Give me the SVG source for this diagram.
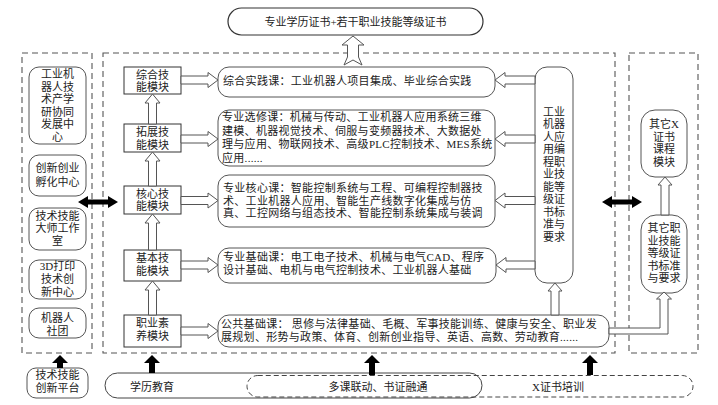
<svg xmlns="http://www.w3.org/2000/svg" width="718" height="405" viewBox="0 0 718 405">
<style>
text{font-family:"Liberation Serif","Noto Sans CJK SC",serif;font-size:11px;fill:#222}
.c{text-anchor:middle}
.l{letter-spacing:0.3px}
.dash{fill:none;stroke:#555;stroke-width:1.1;stroke-dasharray:6,4}
.mod{fill:#fff;stroke:#333;stroke-width:1}
.rnd{fill:#fff;stroke:#555;stroke-width:1}
.ha{fill:#fff;stroke:#555;stroke-width:1;stroke-linejoin:miter}
.ba{fill:#000;stroke:none}
</style>
<rect width="718" height="405" fill="#fff"/>

<g id="frames">
<rect class="dash" x="22" y="53" width="70" height="300"/>
<rect class="dash" x="103" y="53" width="512" height="300"/>
<rect class="dash" x="629" y="53" width="69" height="300"/>
</g>

<g id="top-cert">
<rect x="228" y="8" width="255" height="27" rx="13.5" fill="#fff" stroke="#333" stroke-width="1.2"/>
<text class="c" x="355.5" y="25.5">专业学历证书+若干职业技能等级证书</text>
</g>

<g id="bottom-pills">
<rect x="105" y="373" width="377" height="25" rx="12.5" fill="none" stroke="#444" stroke-width="1"/>
<rect x="247" y="375.5" width="446" height="21.5" rx="10.75" fill="none" stroke="#444" stroke-width="1" stroke-dasharray="5,3"/>
<text class="c" x="152" y="390.5">学历教育</text>
<text class="c" x="378" y="390.5">多课联动、书证融通</text>
<text class="c" x="558" y="390.5">X证书培训</text>
</g>

<g id="left-nodes">
<g id="n-center">
<rect class="rnd" x="29" y="67" width="57" height="77" rx="10"/>
<text class="c" x="57.5" y="78">工业机</text>
<text class="c" x="57.5" y="90.6">器人技</text>
<text class="c" x="57.5" y="103.2">术产学</text>
<text class="c" x="57.5" y="115.8">研协同</text>
<text class="c" x="57.5" y="128.4">发展中</text>
<text class="c" x="57.5" y="141">心</text>
</g>
<g id="n-incubator">
<rect class="rnd" x="29" y="155" width="57" height="41" rx="10"/>
<text class="c" x="57.5" y="172">创新创业</text>
<text class="c" x="57.5" y="186">孵化中心</text>
</g>
<g id="n-master">
<rect class="rnd" x="29" y="208" width="57" height="42" rx="10"/>
<text class="c" x="57.5" y="219.5">技术技能</text>
<text class="c" x="57.5" y="232">大师工作</text>
<text class="c" x="57.5" y="244.5">室</text>
</g>
<g id="n-3d">
<rect class="rnd" x="29" y="260" width="57" height="39" rx="10"/>
<text class="c" x="57.5" y="270">3D打印</text>
<text class="c" x="57.5" y="283">技术创</text>
<text class="c" x="57.5" y="295.5">新中心</text>
</g>
<g id="n-club">
<rect class="rnd" x="29" y="308" width="57" height="30" rx="10"/>
<text class="c" x="57.5" y="322">机器人</text>
<text class="c" x="57.5" y="335">社团</text>
</g>
<g id="n-platform">
<rect class="rnd" x="27" y="368" width="61" height="30" rx="9"/>
<text class="c" x="57.5" y="378.5">技术技能</text>
<text class="c" x="57.5" y="392">创新平台</text>
</g>
</g>

<g id="modules">
<g id="m-comp"><rect class="mod" x="124" y="67" width="57" height="27"/>
<text class="c" x="152.5" y="78.5">综合技</text><text class="c" x="152.5" y="91">能模块</text></g>
<g id="m-ext"><rect class="mod" x="124" y="124" width="57" height="28"/>
<text class="c" x="152.5" y="136">拓展技</text><text class="c" x="152.5" y="148.5">能模块</text></g>
<g id="m-core"><rect class="mod" x="124" y="186" width="57" height="28"/>
<text class="c" x="152.5" y="197.5">核心技</text><text class="c" x="152.5" y="210">能模块</text></g>
<g id="m-base"><rect class="mod" x="124" y="250" width="57" height="31"/>
<text class="c" x="152.5" y="262">基本技</text><text class="c" x="152.5" y="274.5">能模块</text></g>
<g id="m-prof"><rect class="mod" x="124" y="315" width="57" height="32"/>
<text class="c" x="152.5" y="327">职业素</text><text class="c" x="152.5" y="339.5">养模块</text></g>
</g>

<g id="courses">
<g id="c-practice"><rect class="rnd" x="218" y="67" width="277" height="30" rx="11"/>
<text class="l" x="223" y="85">综合实践课：工业机器人项目集成、毕业综合实践</text></g>
<g id="c-elective"><rect class="rnd" x="218" y="110" width="277" height="56" rx="11"/>
<text class="l" x="222" y="121">专业选修课：机械与传动、工业机器人应用系统三维</text>
<text class="l" x="222" y="134.5">建模、机器视觉技术、伺服与变频器技术、大数据处</text>
<text class="l" x="222" y="148">理与应用、物联网技术、高级PLC控制技术、MES系统</text>
<text class="l" x="222" y="161.5">应用......</text></g>
<g id="c-core"><rect class="rnd" x="218" y="175" width="277" height="52" rx="11"/>
<text class="l" x="223" y="192">专业核心课：智能控制系统与工程、可编程控制器技</text>
<text class="l" x="223" y="204.5">术、工业机器人应用、智能生产线数字化集成与仿</text>
<text class="l" x="223" y="217">真、工控网络与组态技术、智能控制系统集成与装调</text></g>
<g id="c-basic"><rect class="rnd" x="218" y="248" width="278" height="35" rx="11"/>
<text class="l" x="223" y="261">专业基础课：电工电子技术、机械与电气CAD、程序</text>
<text class="l" x="223" y="273.5">设计基础、电机与电气控制技术、工业机器人基础</text></g>
<g id="c-public"><rect class="rnd" x="218" y="315" width="391" height="32" rx="11"/>
<text class="l" x="221" y="328">公共基础课： 思修与法律基础、毛概、军事技能训练、健康与安全、职业发</text>
<text class="l" x="221" y="341">展规划、形势与政策、体育、创新创业指导、英语、高数、劳动教育......</text></g>
</g>

<g id="n-standard">
<rect class="rnd" x="535" y="67" width="38" height="216" rx="12"/>
<text class="c" x="554" y="115.5">工业</text>
<text class="c" x="554" y="128">机器</text>
<text class="c" x="554" y="140.5">人应</text>
<text class="c" x="554" y="153">用编</text>
<text class="c" x="554" y="165.5">程职</text>
<text class="c" x="554" y="178">业技</text>
<text class="c" x="554" y="190.5">能等</text>
<text class="c" x="554" y="203">级证</text>
<text class="c" x="554" y="215.5">书标</text>
<text class="c" x="554" y="228">准与</text>
<text class="c" x="554" y="240.5">要求</text>
</g>

<g id="right-nodes">
<g id="n-otherx"><rect class="rnd" x="641" y="110" width="46" height="67" rx="14"/>
<text class="c" x="664" y="128">其它X</text>
<text class="c" x="664" y="140.7">证书</text>
<text class="c" x="664" y="153.4">课程</text>
<text class="c" x="664" y="166">模块</text></g>
<g id="n-otherstd"><rect class="rnd" x="641" y="215" width="46" height="78" rx="15"/>
<text class="c" x="664" y="232">其它职</text>
<text class="c" x="664" y="244.5">业技能</text>
<text class="c" x="664" y="257">等级证</text>
<text class="c" x="664" y="269.5">书标准</text>
<text class="c" x="664" y="282">与要求</text></g>
</g>

<g id="connectors">
<polygon class="ha" points="353,36 364,45 358.5,45 358.5,57 362,65 353,60 344,65 347.5,57 347.5,45 342,45"/>
<polygon class="ha" points="152.5,94 160,103 156.5,103 156.5,124 148.5,124 148.5,103 145,103"/>
<polygon class="ha" points="152.5,152 160,161 156.5,161 156.5,186 148.5,186 148.5,161 145,161"/>
<polygon class="ha" points="152.5,214 160,223 156.5,223 156.5,250 148.5,250 148.5,223 145,223"/>
<polygon class="ha" points="152.5,281 160,290 156.5,290 156.5,315 148.5,315 148.5,290 145,290"/>
<polygon class="ha" points="181,76 208,76 208,72.5 218,80 208,87.5 208,84 181,84"/>
<polygon class="ha" points="181,135 208,135 208,131.5 218,139 208,146.5 208,143 181,143"/>
<polygon class="ha" points="181,196.5 208,196.5 208,193 218,200.5 208,208 208,204.5 181,204.5"/>
<polygon class="ha" points="181,261 208,261 208,257.5 218,265 208,272.5 208,269 181,269"/>
<polygon class="ha" points="181,327 208,327 208,323.5 218,331 208,338.5 208,335 181,335"/>
<polygon class="ha" points="535,76 505,76 505,72.5 495,80 505,87.5 505,84 535,84"/>
<polygon class="ha" points="535,135 505,135 505,131.5 495,139 505,146.5 505,143 535,143"/>
<polygon class="ha" points="535,196.5 505,196.5 505,193 495,200.5 505,208 505,204.5 535,204.5"/>
<polygon class="ha" points="535,261 506,261 506,257.5 496,265 506,272.5 506,269 535,269"/>
<polygon class="ha" points="555,283 562,291 559,291 559,315 551,315 551,291 548,291"/>
<polygon class="ha" points="609,328 660,328 660,299 656.5,299 664,292 671.5,299 668,299 668,334 609,334"/>
<polygon class="ha" points="665,177 672,185 669,185 669,215 661,215 661,185 658,185"/>
<polygon class="ba" points="78,202 88,196 88,199.5 108,199.5 108,196 118,202 108,208 108,204.5 88,204.5 88,208"/>
<polygon class="ba" points="602,202 612,196 612,199.5 632,199.5 632,196 642,202 632,208 632,204.5 612,204.5 612,208"/>
<polygon class="ba" points="60,355 68,363 63,363 63,368 57,368 57,363 52,363"/>
<polygon class="ba" points="152,355 160,363 155,363 155,373 149,373 149,363 144,363"/>
<polygon class="ba" points="372,355 380,363 375,363 375,375 369,375 369,363 364,363"/>
<polygon class="ba" points="590,355 598,363 593,363 593,375 587,375 587,363 582,363"/>
</g>
</svg>
